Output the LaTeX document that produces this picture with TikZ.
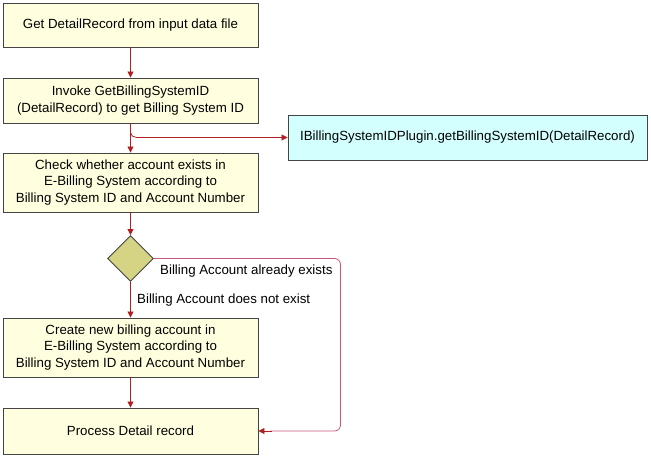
\documentclass[tikz,border=0pt]{standalone}
\usepackage{fontspec}
\setmainfont{Liberation Sans}
\usetikzlibrary{arrows.meta,shapes.geometric}
\definecolor{boxfill}{HTML}{FFFFE0}
\definecolor{boxline}{HTML}{444444}
\definecolor{cyanfill}{HTML}{D4FFFF}
\definecolor{dia}{HTML}{D4D484}
\definecolor{arr}{HTML}{B02020}
\definecolor{pinkarr}{HTML}{C8567A}
\begin{document}
\begin{tikzpicture}[x=1pt,y=-1pt,
  every node/.style={font=\fontsize{13.3}{16.5}\selectfont},
  stepbox/.style={draw=boxline,fill=boxfill,line width=0.9pt,minimum width=255pt,align=center,inner sep=0pt},
  plugbox/.style={draw=boxline,fill=cyanfill,line width=0.9pt,minimum width=359pt,minimum height=45pt,inner sep=0pt},
  conn/.style={draw=arr,line width=0.8pt,-{Triangle[length=6pt,width=6pt]}},
  lbl/.style={inner sep=0pt,anchor=west}]
\useasboundingbox (0,0) rectangle (651,456);
\node[stepbox,minimum height=44pt] (b1) at (130.5,25) {Get DetailRecord from input data file};
\node[stepbox,minimum height=45pt] (b2) at (130.5,100.5) {Invoke GetBillingSystemID\\(DetailRecord) to get Billing System ID};
\node[stepbox,minimum height=59pt] (b3) at (130.5,182.5) {Check whether account exists in\\E-Billing System according to\\Billing System ID and Account Number};
\node[diamond,draw=boxline,fill=dia,line width=0.9pt,minimum width=46pt,minimum height=46pt,inner sep=0pt] (d) at (130.5,258.5) {};
\node[stepbox,minimum height=59pt] (b4) at (130.5,347.5) {Create new billing account in\\E-Billing System according to\\Billing System ID and Account Number};
\node[stepbox,minimum height=46pt] (b5) at (130.5,431) {Process Detail record};
\node[plugbox] (p) at (467.5,137.5) {IBillingSystemIDPlugin.getBillingSystemID(DetailRecord)};
\coordinate (rc) at (340.5,258.5);
\coordinate (rb) at (340.5,431);
\draw[conn] (b1) -- (b2);
\draw[conn] (b2) -- (b3);
\draw[conn] (b2.south) -- ++(0,9) to[out=-90,in=180] ++(6,5) -- (p.west);
\draw[conn] (b3) -- (d);
\draw[conn] (d) -- (b4);
\draw[conn] (b4) -- (b5);
\draw[draw=pinkarr,line width=0.8pt,rounded corners=6pt] (d.east) -- (rc) -- (rb) -- ([xshift=12pt]b5.east);
\draw[conn] ([xshift=14pt]b5.east) -- (b5.east);
\node[lbl] (l1) at (160,271) {Billing Account already exists};
\node[lbl] (l2) at (137,300.5) {Billing Account does not exist};
\end{tikzpicture}
\end{document}
